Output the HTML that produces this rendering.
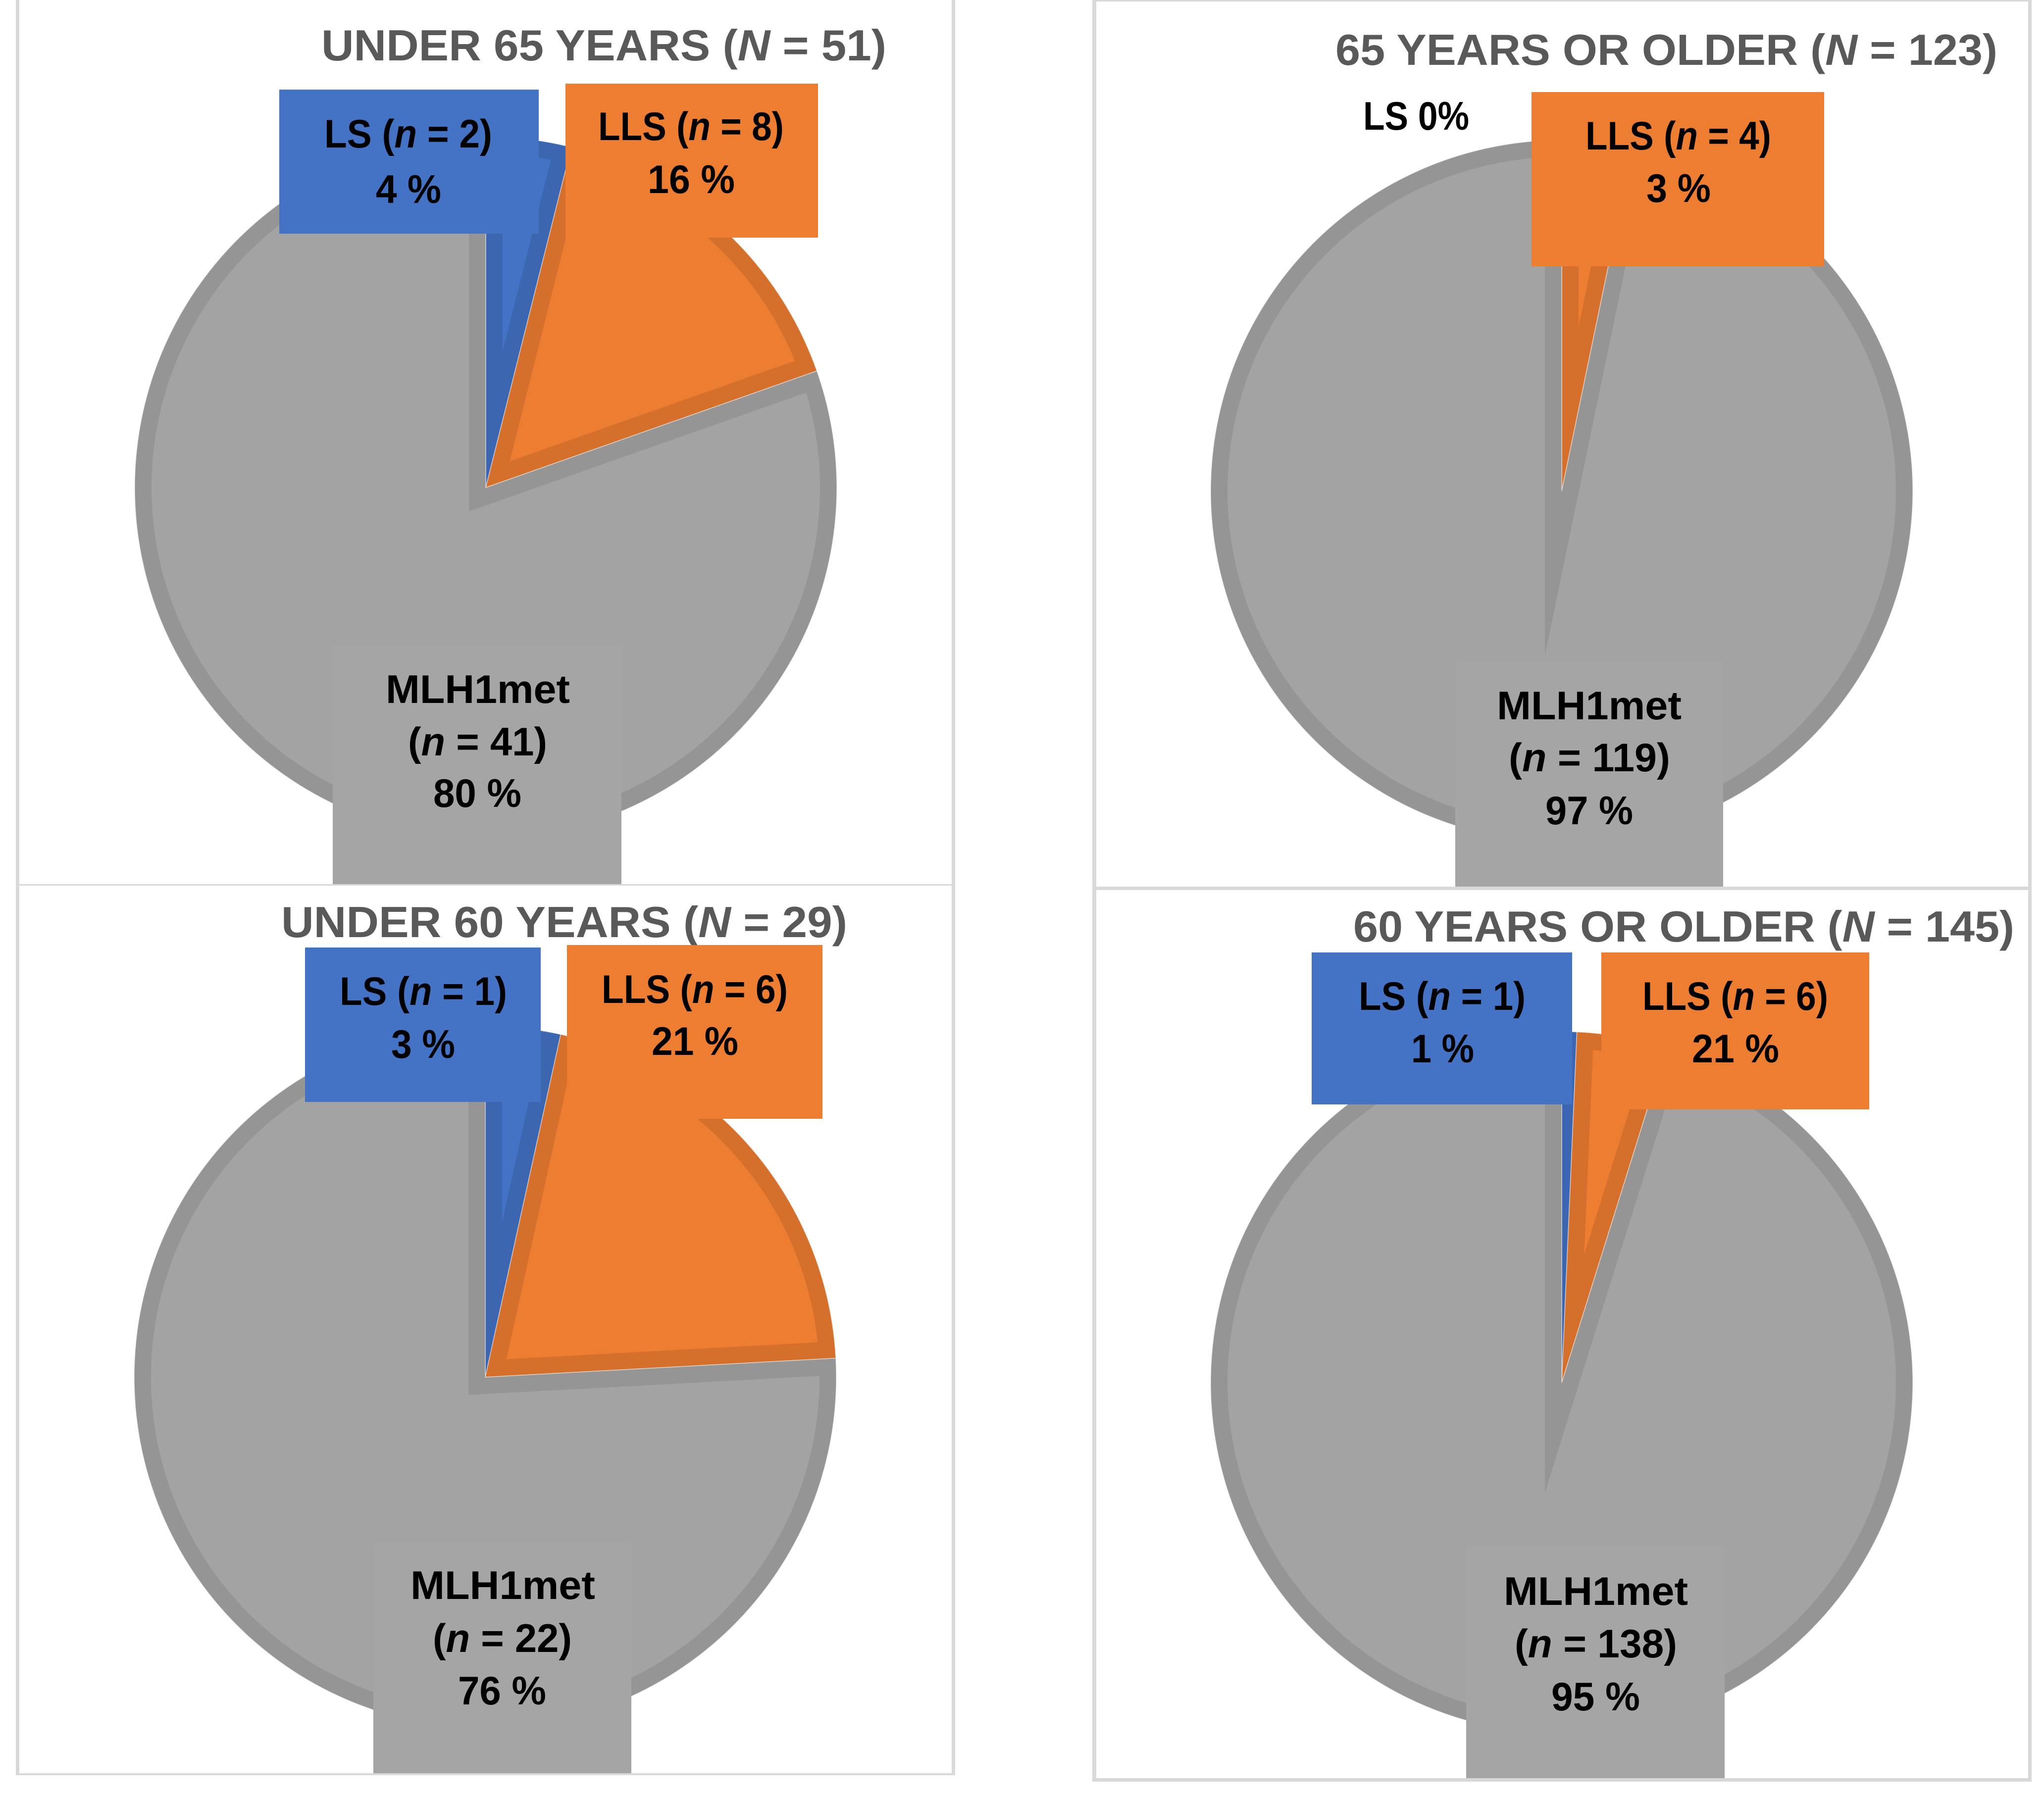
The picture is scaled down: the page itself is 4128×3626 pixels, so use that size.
<!DOCTYPE html>
<html lang="en">
<head>
<meta charset="utf-8">
<title>Pie charts by age group</title>
<style>
  html, body { margin: 0; padding: 0; background: #fff; }
  svg { display: block; }
  text { font-family: "Liberation Sans", sans-serif; font-weight: 700; }
  .lbl { font-size: 81px; fill: #000; }
  .ttl { font-size: 88px; fill: #595959; }
  .it { font-style: italic; }
  .frame { fill: #d9d9d9; }
</style>
</head>
<body>
<svg id="chart" xmlns="http://www.w3.org/2000/svg" width="4128" height="3626" viewBox="0 0 4128 3626">
  <defs id="clip-defs"></defs>
  <rect x="0" y="0" width="4128" height="3626" fill="#ffffff"/>

  <!-- PANEL: UNDER 65 -->
  <g>
    <g id="slices-under-65"></g>
    <text class="ttl" x="649" y="122" textLength="1141" lengthAdjust="spacingAndGlyphs">UNDER 65 YEARS (<tspan class="it">N</tspan> = 51)</text>
    <g>
      <rect x="564" y="181" width="524" height="291" fill="#4472c4"/>
      <text class="lbl" x="655" y="298" textLength="339" lengthAdjust="spacingAndGlyphs">LS (<tspan class="it">n</tspan> = 2)</text>
      <text class="lbl" x="759" y="410" textLength="132" lengthAdjust="spacingAndGlyphs">4 %</text>
    </g>
    <g>
      <rect x="1142" y="169" width="510" height="311" fill="#ed7d31"/>
      <text class="lbl" x="1208" y="283" textLength="375" lengthAdjust="spacingAndGlyphs">LLS (<tspan class="it">n</tspan> = 8)</text>
      <text class="lbl" x="1308" y="390" textLength="176" lengthAdjust="spacingAndGlyphs">16 %</text>
    </g>
    <g>
      <rect x="672" y="1304" width="583" height="482" fill="#a5a5a5"/>
      <text class="lbl" x="779" y="1420" textLength="372" lengthAdjust="spacingAndGlyphs">MLH1met</text>
      <text class="lbl" x="824" y="1526" textLength="281" lengthAdjust="spacingAndGlyphs">(<tspan class="it">n</tspan> = 41)</text>
      <text class="lbl" x="875" y="1630" textLength="178" lengthAdjust="spacingAndGlyphs">80 %</text>
    </g>
    <path class="frame" d="M32 0H39V1786H1922V0H1929V1789H32Z"/>
  </g>

  <!-- PANEL: 65 OR OLDER -->
  <g>
    <g id="slices-65-or-older"></g>
    <text class="ttl" x="2697" y="131" textLength="1337" lengthAdjust="spacingAndGlyphs">65 YEARS OR OLDER (<tspan class="it">N</tspan> = 123)</text>
    <text class="lbl" x="2753" y="262" textLength="214" lengthAdjust="spacingAndGlyphs">LS 0%</text>
    <g>
      <rect x="3093" y="186" width="591" height="352" fill="#ed7d31"/>
      <text class="lbl" x="3202" y="302" textLength="375" lengthAdjust="spacingAndGlyphs">LLS (<tspan class="it">n</tspan> = 4)</text>
      <text class="lbl" x="3325" y="408" textLength="130" lengthAdjust="spacingAndGlyphs">3 %</text>
    </g>
    <g>
      <rect x="2939" y="1335" width="541" height="456" fill="#a5a5a5"/>
      <text class="lbl" x="3023" y="1453" textLength="373" lengthAdjust="spacingAndGlyphs">MLH1met</text>
      <text class="lbl" x="3047" y="1558" textLength="326" lengthAdjust="spacingAndGlyphs">(<tspan class="it">n</tspan> = 119)</text>
      <text class="lbl" x="3121" y="1665" textLength="177" lengthAdjust="spacingAndGlyphs">97 %</text>
    </g>
    <path class="frame" d="M2206 0H4103V1798H2206ZM2214 3V1791H4096V3Z" fill-rule="evenodd"/>
  </g>

  <!-- PANEL: UNDER 60 -->
  <g>
    <g id="slices-under-60"></g>
    <text class="ttl" x="568" y="1893" textLength="1143" lengthAdjust="spacingAndGlyphs">UNDER 60 YEARS (<tspan class="it">N</tspan> = 29)</text>
    <g>
      <rect x="616" y="1914" width="476" height="312" fill="#4472c4"/>
      <text class="lbl" x="686" y="2030" textLength="338" lengthAdjust="spacingAndGlyphs">LS (<tspan class="it">n</tspan> = 1)</text>
      <text class="lbl" x="790" y="2137" textLength="129" lengthAdjust="spacingAndGlyphs">3 %</text>
    </g>
    <g>
      <rect x="1145" y="1909" width="516" height="351" fill="#ed7d31"/>
      <text class="lbl" x="1215" y="2026" textLength="376" lengthAdjust="spacingAndGlyphs">LLS (<tspan class="it">n</tspan> = 6)</text>
      <text class="lbl" x="1316" y="2131" textLength="175" lengthAdjust="spacingAndGlyphs">21 %</text>
    </g>
    <g>
      <rect x="754" y="3117" width="521" height="465" fill="#a5a5a5"/>
      <text class="lbl" x="829" y="3230" textLength="373" lengthAdjust="spacingAndGlyphs">MLH1met</text>
      <text class="lbl" x="874" y="3337" textLength="281" lengthAdjust="spacingAndGlyphs">(<tspan class="it">n</tspan> = 22)</text>
      <text class="lbl" x="925" y="3443" textLength="178" lengthAdjust="spacingAndGlyphs">76 %</text>
    </g>
    <path class="frame" d="M32 1789H39V3582H1922V1789H1929V3586H32Z"/>
  </g>

  <!-- PANEL: 60 OR OLDER -->
  <g>
    <g id="slices-60-or-older"></g>
    <text class="ttl" x="2733" y="1902" textLength="1335" lengthAdjust="spacingAndGlyphs">60 YEARS OR OLDER (<tspan class="it">N</tspan> = 145)</text>
    <g>
      <rect x="2649" y="1924" width="526" height="307" fill="#4472c4"/>
      <text class="lbl" x="2744" y="2040" textLength="337" lengthAdjust="spacingAndGlyphs">LS (<tspan class="it">n</tspan> = 1)</text>
      <text class="lbl" x="2850" y="2146" textLength="127" lengthAdjust="spacingAndGlyphs">1 %</text>
    </g>
    <g>
      <rect x="3234" y="1924" width="541" height="317" fill="#ed7d31"/>
      <text class="lbl" x="3317" y="2040" textLength="375" lengthAdjust="spacingAndGlyphs">LLS (<tspan class="it">n</tspan> = 6)</text>
      <text class="lbl" x="3417" y="2146" textLength="176" lengthAdjust="spacingAndGlyphs">21 %</text>
    </g>
    <g>
      <rect x="2961" y="3125" width="522" height="467" fill="#a5a5a5"/>
      <text class="lbl" x="3037" y="3242" textLength="372" lengthAdjust="spacingAndGlyphs">MLH1met</text>
      <text class="lbl" x="3059" y="3348" textLength="328" lengthAdjust="spacingAndGlyphs">(<tspan class="it">n</tspan> = 138)</text>
      <text class="lbl" x="3133" y="3455" textLength="179" lengthAdjust="spacingAndGlyphs">95 %</text>
    </g>
    <path class="frame" d="M2206 1798H2214V3592H4096V1798H4103V3599H2206Z"/>
  </g>
</svg>

<script>
// Chart data: patient counts per category, in clockwise order from 12 o'clock
const categories = ['ls', 'lls', 'mlh1met'];
const under65Counts = [2, 8, 41];
const over65Counts = [0, 4, 119];
const under60Counts = [1, 6, 22];
const over60Counts = [1, 6, 138];

const SVG_NS = 'http://www.w3.org/2000/svg';
const RADIUS = 709;
const INSET_WIDTH = 68;
const fillByCategory = { ls: '#4472c4', lls: '#ed7d31', mlh1met: '#a3a3a3' };
const edgeByCategory = { ls: '#3d66b0', lls: '#d5702c', mlh1met: '#959595' };
const defs = document.getElementById('clip-defs');

// Axis function: cumulative count -> angle in radians, clockwise from top
function angleScale(cumulative, total) {
  return (cumulative / total) * 2 * Math.PI;
}

function slicePath(cx, cy, r, a0, a1) {
  const x0 = cx + r * Math.sin(a0);
  const y0 = cy - r * Math.cos(a0);
  const x1 = cx + r * Math.sin(a1);
  const y1 = cy - r * Math.cos(a1);
  const large = a1 - a0 > Math.PI ? 1 : 0;
  return 'M' + cx + ' ' + cy + 'L' + x0 + ' ' + y0 + 'A' + r + ' ' + r + ' 0 ' + large + ' 1 ' + x1 + ' ' + y1 + 'Z';
}

function drawPie(groupId, counts, cx, cy) {
  const group = document.getElementById(groupId);
  const total = counts.reduce(function (a, b) { return a + b; }, 0);
  let running = 0;
  counts.forEach(function (count, i) {
    const a0 = angleScale(running, total);
    running += count;
    const a1 = angleScale(running, total);
    if (count <= 0) return;
    const d = slicePath(cx, cy, RADIUS, a0, a1);
    const clipId = groupId + '-clip-' + i;

    const clip = document.createElementNS(SVG_NS, 'clipPath');
    clip.setAttribute('id', clipId);
    const clipShape = document.createElementNS(SVG_NS, 'path');
    clipShape.setAttribute('d', d);
    clip.appendChild(clipShape);
    defs.appendChild(clip);

    const slice = document.createElementNS(SVG_NS, 'path');
    
    
    slice.setAttribute('d', d);
    slice.setAttribute('fill', fillByCategory[categories[i]]);
    slice.setAttribute('stroke', edgeByCategory[categories[i]]);
    slice.setAttribute('stroke-width', INSET_WIDTH);
    slice.setAttribute('stroke-linejoin', 'miter');
    slice.setAttribute('stroke-miterlimit', '40');
    slice.setAttribute('clip-path', 'url(#' + clipId + ')');
    group.appendChild(slice);

    const seam = document.createElementNS(SVG_NS, 'path');
    
    
    seam.setAttribute('d', d);
    seam.setAttribute('fill', 'none');
    seam.setAttribute('stroke', '#ffffff');
    seam.setAttribute('stroke-opacity', '0.5');
    seam.setAttribute('stroke-width', '1.5');
    group.appendChild(seam);
  });
}

drawPie('slices-under-65', under65Counts, 981, 985);
drawPie('slices-65-or-older', over65Counts, 3154, 992);
drawPie('slices-under-60', under60Counts, 980, 2782);
drawPie('slices-60-or-older', over60Counts, 3154, 2793);
</script>
</body>
</html>
